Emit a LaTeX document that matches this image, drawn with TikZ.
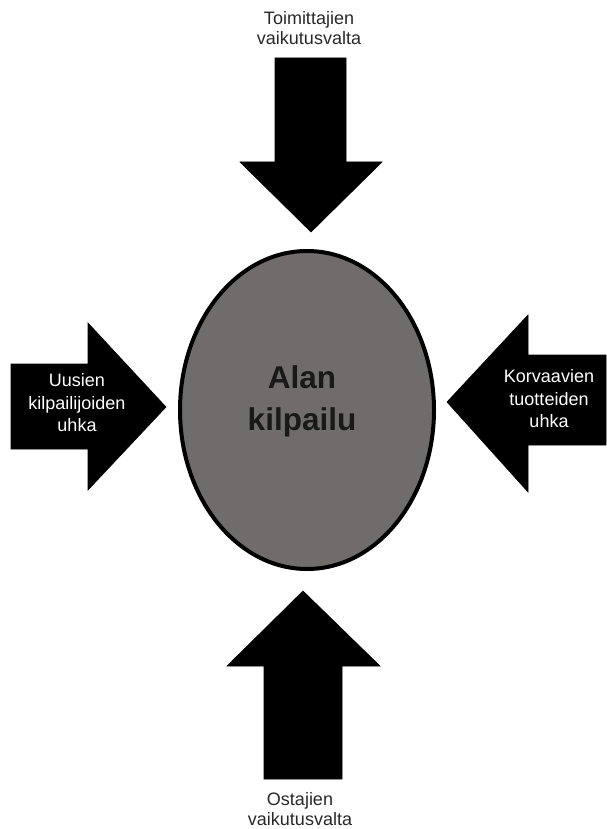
\documentclass[tikz,border=0pt]{standalone}
\usepackage{fontspec}
\setmainfont{Liberation Sans}
\usetikzlibrary{shapes.geometric}
\definecolor{ovalgray}{RGB}{112,108,108}
\definecolor{labelgray}{RGB}{40,40,40}
\tikzset{
  bigarrow/.style={fill=black, draw=black, line width=0.6pt, line join=miter},
  outlabel/.style={text=labelgray, font=\fontsize{18}{20.5}\selectfont, align=center, inner sep=0pt},
  inlabel/.style={text=white, font=\fontsize{18}{22.5}\selectfont, align=center, inner sep=0pt},
  centerlabel/.style={text=black!90, font=\bfseries\fontsize{31.5}{42}\selectfont, align=center, inner sep=0pt}
}
\begin{document}
\begin{tikzpicture}[x=1pt,y=-1pt]
\useasboundingbox (0,0) rectangle (606,829);
% central oval
\node[ellipse, draw=black, line width=4pt, fill=ovalgray, minimum width=254pt, minimum height=318pt, inner sep=0pt] (oval) at (307,410) {};
\node[centerlabel] (ovaltext) at (302,401) {Alan\\kilpailu};
% top arrow
\draw[bigarrow] (275,58) -- (346,58) -- (346,162) -- (382,162) -- (311,232) -- (240,162) -- (275,162) -- cycle;
\node[outlabel] (toptext) at (309,28) {Toimittajien\\vaikutusvalta};
% left arrow
\draw[bigarrow] (11,364) -- (88,364) -- (88,323) -- (166,407) -- (88,490) -- (88,449) -- (11,449) -- cycle;
\node[inlabel] (lefttext) at (77,403) {Uusien\\kilpailijoiden\\uhka};
% right arrow
\draw[bigarrow] (447,402) -- (528,315) -- (528,355) -- (606,355) -- (606,445) -- (528,445) -- (528,492) -- cycle;
\node[inlabel] (righttext) at (549,399) {Korvaavien\\tuotteiden\\uhka};
% bottom arrow
\draw[bigarrow] (303,591) -- (380,666) -- (342,666) -- (342,779) -- (264,779) -- (264,666) -- (227,666) -- cycle;
\node[outlabel] (bottomtext) at (300,809) {Ostajien\\vaikutusvalta};
\end{tikzpicture}
\end{document}
